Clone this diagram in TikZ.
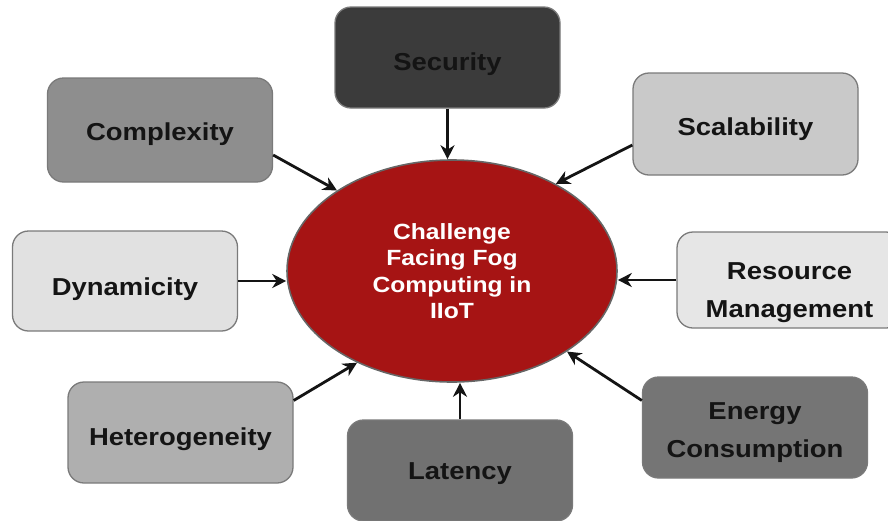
\documentclass[tikz,border=0pt]{standalone}
\usepackage{fontspec}
\setmainfont[FakeStretch=1.12]{Liberation Sans}
\usetikzlibrary{shapes.geometric,arrows.meta}
\definecolor{cSec}{HTML}{3B3B3B}
\definecolor{cCpx}{HTML}{8E8E8E}
\definecolor{cScl}{HTML}{C9C9C9}
\definecolor{cDyn}{HTML}{E1E1E1}
\definecolor{cRes}{HTML}{E6E6E6}
\definecolor{cHet}{HTML}{AFAFAF}
\definecolor{cLat}{HTML}{717171}
\definecolor{cEne}{HTML}{757575}
\definecolor{cRed}{HTML}{A61414}
\definecolor{cEdge}{HTML}{7A7A7A}
\tikzset{
  challenge/.style={draw=cEdge, line width=1.3pt, rounded corners=16pt,
    minimum width=225pt, minimum height=101pt, inner sep=0pt,
    align=center, font=\fontsize{24.5}{38}\selectfont\bfseries, text=black!92},
  oneline/.style={text height=25pt, text depth=0pt},
  hub/.style={ellipse, draw=black!60, line width=1.6pt, fill=cRed,
    minimum width=330pt, minimum height=222pt, inner sep=0pt,
    align=center, text=white, font=\fontsize{22}{26.5}\selectfont\bfseries},
  arr/.style={line width=2.8pt, black!92, -{Stealth[length=14pt,width=14pt,inset=4.5pt]}}
}
\begin{document}
\begin{tikzpicture}[x=1pt,y=-1pt]
\useasboundingbox (0,0) rectangle (888,520);

% central ellipse
\node[hub] (ell) at (452,271) {Challenge\\Facing Fog\\Computing in\\IIoT};

% surrounding challenges
\node[challenge, oneline, fill=cSec] (sec) at (447.5,57.5) {Security};
\node[challenge, oneline, fill=cCpx, minimum height=104pt, text height=21pt] (cpx) at (160,130) {Complexity};
\node[challenge, oneline, fill=cScl, minimum height=102pt, text height=22pt] (scl) at (745.5,124) {Scalability};
\node[challenge, oneline, fill=cDyn, minimum height=100pt, text height=29pt] (dyn) at (125,281) {Dynamicity};
\node[challenge, fill=cRes, minimum height=96pt] (res) at (789.5,280)
  {\rule{0pt}{42pt}Resource\\Management};
\node[challenge, oneline, fill=cHet, text height=25pt] (het) at (180.5,432.5) {Heterogeneity};
\node[challenge, oneline, fill=cLat, text height=17pt] (lat) at (460,470.5) {Latency};
\node[challenge, fill=cEne] (ene) at (755,427.5) {\rule{0pt}{28pt}Energy\\Consumption};

% connectors pointing at the hub
\draw[arr] (sec.south) -- (sec.south |- ell.north);
\draw[arr] ([yshift=-25pt]cpx.east) -- (ell.145);
\draw[arr] ([yshift=-21pt]scl.west) -- (ell.40);
\draw[arr] (dyn.east) -- (dyn.east -| ell.west);
\draw[arr] (res.west) -- (res.west -| ell.east);
\draw[arr] ([yshift=32pt]het.east) -- (ell.224);
\draw[arr] (lat.north) -- (lat.north |- ell.south);
\draw[arr] ([yshift=27pt]ene.west) -- (ell.325);
\end{tikzpicture}
\end{document}
